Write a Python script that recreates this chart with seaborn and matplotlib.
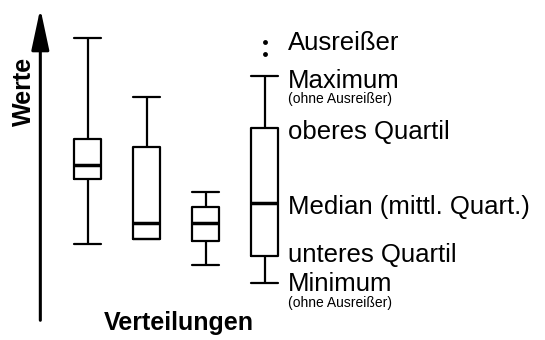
import numpy as np
import pandas as pd
import matplotlib
matplotlib.use("Agg")
import matplotlib.pyplot as plt
import seaborn as sns

# Werte je Verteilung: Minimum, unteres Quartil, Median, oberes Quartil, Maximum
verteilungen = ["A", "B", "C", "D"]
werte_a = [7.6, 14.1, 15.5, 18.1, 28.2]
werte_b = [8.1, 8.1, 9.7, 17.3, 22.3]
werte_c = [5.5, 7.9, 9.7, 11.3, 12.8]
werte_d = [3.7, 6.4, 11.7, 19.2, 24.4]
ausreisser_d = [27.8, 26.6]

df = pd.DataFrame({
    "Verteilung": np.repeat(verteilungen, 5),
    "Wert": werte_a + werte_b + werte_c + werte_d,
})
df_aus = pd.DataFrame({"Verteilung": ["D"] * len(ausreisser_d), "Wert": ausreisser_d})

sns.set_style("white")
plt.rcParams["font.family"] = ["Liberation Sans", "DejaVu Sans"]
plt.rcParams["text.color"] = "black"

fig = plt.figure(figsize=(5.45, 3.4), dpi=100)
ax = fig.add_axes([0, 0, 1, 1])

sns.boxplot(data=df, x="Verteilung", y="Wert", order=verteilungen, ax=ax,
            fill=False, color="black", linewidth=1.6, width=0.46,
            whis=(0, 100), showfliers=False, capwidths=0.46,
            medianprops=dict(linewidth=2.5, color="black"))
sns.stripplot(data=df_aus, x="Verteilung", y="Wert", order=verteilungen, ax=ax,
              jitter=False, color="black", size=3.5, linewidth=0)

ax.set_xlim(-1.49, 7.75)
ax.set_ylim(-2, 32)
ax.axis("off")

# Pfeil als Werte-Achse
ax.annotate("", xy=(0.074, 0.975), xytext=(0.074, 0.058), xycoords="axes fraction",
            arrowprops=dict(arrowstyle="-|>,head_length=1.4,head_width=0.3",
                            color="black", lw=2.2, mutation_scale=18,
                            shrinkA=0, shrinkB=0))
ax.text(0.044, 0.73, "Werte", transform=ax.transAxes, rotation=90,
        ha="center", va="center", fontsize=18, fontweight="bold")
ax.text(0.328, 0.03, "Verteilungen", transform=ax.transAxes,
        ha="center", va="baseline", fontsize=18, fontweight="bold")

# Beschriftung der rechten Box
q = werte_d
lx = 3.39
ax.text(lx, max(ausreisser_d) - 0.1, "Ausreißer", va="center", fontsize=18.5)
ax.text(lx, q[4] - 0.5, "Maximum", va="center", fontsize=18.5)
ax.text(lx, q[4] - 2.3, "(ohne Ausreißer)", va="center", fontsize=10)
ax.text(lx, q[3] - 0.4, "oberes Quartil", va="center", fontsize=18.5)
ax.text(lx, q[2] - 0.4, "Median (mittl. Quart.)", va="center", fontsize=18.5)
ax.text(lx, q[1] + 0.1, "unteres Quartil", va="center", fontsize=18.5)
ax.text(lx, q[0] - 0.1, "Minimum", va="center", fontsize=18.5)
ax.text(lx, q[0] - 1.95, "(ohne Ausreißer)", va="center", fontsize=10)

fig.savefig("out.png", dpi=100)
